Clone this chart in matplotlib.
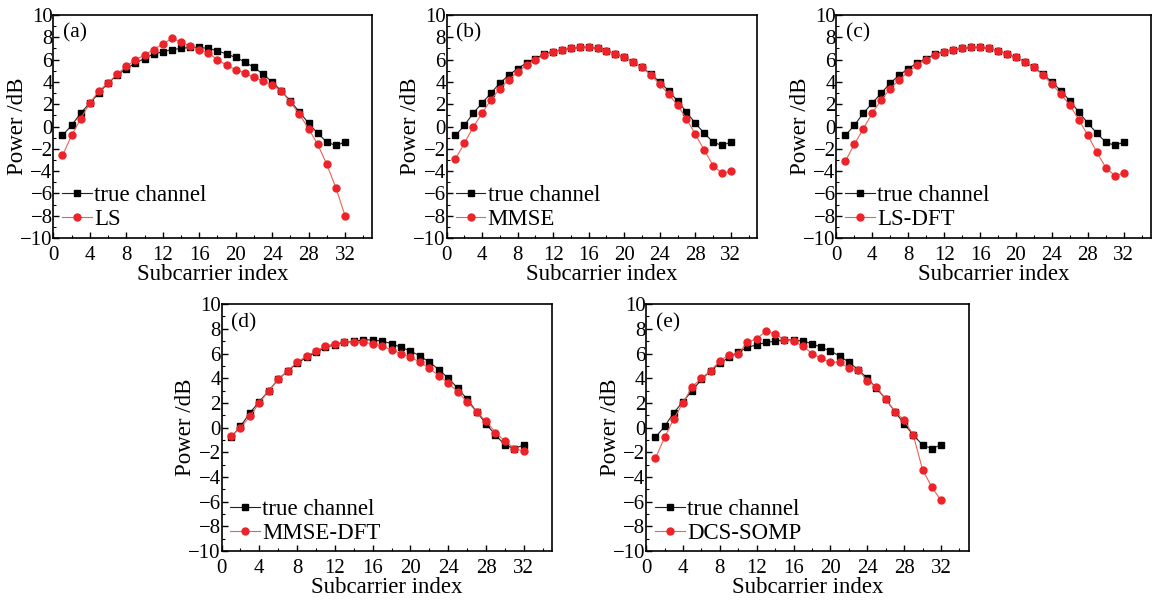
import numpy as np
import matplotlib
matplotlib.use("Agg")
import matplotlib.pyplot as plt
from matplotlib.ticker import MultipleLocator, FixedLocator

plt.rcParams['font.family'] = ['Liberation Serif', 'DejaVu Serif']

subcarrier = list(range(1, 33))

true_channel = [-0.8, 0.1, 1.2, 2.1, 3.0, 3.9, 4.6, 5.2, 5.7, 6.1, 6.5, 6.7, 6.9, 7.0, 7.1, 7.1,
                7.0, 6.8, 6.5, 6.2, 5.8, 5.3, 4.7, 4.0, 3.2, 2.3, 1.3, 0.3, -0.6, -1.4, -1.7, -1.4]

ls = [-2.6, -0.8, 0.7, 2.1, 3.2, 3.9, 4.7, 5.4, 6.0, 6.4, 6.9, 7.4, 7.9, 7.6, 7.2, 6.9,
      6.6, 6.0, 5.5, 5.1, 4.8, 4.4, 4.1, 3.7, 3.2, 2.2, 1.1, -0.2, -1.6, -3.4, -5.5, -8.0]

mmse = [-2.9, -1.5, -0.05, 1.2, 2.4, 3.4, 4.2, 4.9, 5.5, 6.0, 6.4, 6.7, 6.9, 7.0, 7.1, 7.1,
        7.0, 6.8, 6.5, 6.2, 5.8, 5.3, 4.6, 3.8, 2.9, 1.9, 0.7, -0.7, -2.1, -3.5, -4.2, -4.0]

ls_dft = [-3.1, -1.6, -0.2, 1.2, 2.4, 3.4, 4.2, 4.9, 5.5, 6.0, 6.4, 6.7, 6.9, 7.0, 7.1, 7.1,
          7.0, 6.8, 6.5, 6.2, 5.8, 5.3, 4.6, 3.8, 2.9, 1.9, 0.6, -0.8, -2.3, -3.7, -4.4, -4.2]

mmse_dft = [-0.7, 0.0, 0.9, 2.0, 3.0, 3.9, 4.6, 5.3, 5.8, 6.2, 6.6, 6.8, 6.9, 6.95, 6.9, 6.8,
            6.6, 6.3, 6.0, 5.7, 5.3, 4.8, 4.2, 3.6, 2.9, 2.1, 1.3, 0.5, -0.4, -1.1, -1.7, -1.9]

dcs_somp = [-2.5, -0.8, 0.7, 2.0, 3.3, 4.0, 4.6, 5.4, 5.9, 6.0, 6.9, 7.2, 7.8, 7.6, 7.1, 7.0,
            6.6, 6.0, 5.6, 5.3, 5.3, 4.8, 4.7, 3.8, 3.3, 2.3, 1.3, 0.6, -0.6, -3.4, -4.8, -5.9]

panel_tags = ['(a)', '(b)', '(c)', '(d)', '(e)']
method_names = ['LS', 'MMSE', 'LS-DFT', 'MMSE-DFT', 'DCS-SOMP']
estimates = [ls, mmse, ls_dft, mmse_dft, dcs_somp]

x_ticks = [0, 4, 8, 12, 16, 20, 24, 28, 32]
y_ticks = [10, 8, 6, 4, 2, 0, -2, -4, -6, -8, -10]
y_tick_labels = ['10', '8', '6', '4', '2', '0', '\u22122', '\u22124', '\u22126', '\u22128', '\u221210']

# axes boxes in figure fractions
boxes = [
    [0.046, 0.604, 0.275, 0.371],
    [0.385, 0.604, 0.268, 0.371],
    [0.721, 0.604, 0.271, 0.371],
    [0.191, 0.083, 0.285, 0.411],
    [0.557, 0.083, 0.278, 0.411],
]

red = '#ec2329'
W = 1160

fig = plt.figure(figsize=(11.6, 6.01), dpi=100)

for i in range(5):
    ax = fig.add_axes(boxes[i])
    ax.plot(subcarrier, true_channel, color='#222222', lw=0.8, marker='s', ms=4,
            mfc='black', mec='black', label='true channel')
    ax.plot(subcarrier, estimates[i], color='#f06050', lw=0.8, marker='o', ms=5,
            mfc=red, mec=red, label=method_names[i])

    ax.set_xlim(0, 35)
    ax.set_ylim(-10, 10)
    ax.xaxis.set_major_locator(FixedLocator(x_ticks))
    ax.xaxis.set_minor_locator(MultipleLocator(2))
    ax.yaxis.set_major_locator(FixedLocator(y_ticks))
    ax.yaxis.set_minor_locator(MultipleLocator(1))
    ax.set_yticklabels(y_tick_labels)
    ax.tick_params(axis='both', which='major', direction='in', length=4, width=1,
                   labelsize=15)
    ax.tick_params(axis='y', which='major', pad=0.5)
    ax.tick_params(axis='x', which='major', pad=5.5)
    ax.tick_params(axis='both', which='minor', direction='in', length=2.5, width=0.8)
    for s in ax.spines.values():
        s.set_linewidth(1.2)

    ax.set_xlabel('Subcarrier index', fontsize=16.5, labelpad=-0.5)
    ax.set_ylabel('Power /dB', fontsize=16.5, va='center')
    ax.yaxis.set_label_coords(-36 / (boxes[i][2] * W), 0.5)
    ax.text(0.03, 0.965, panel_tags[i], transform=ax.transAxes, fontsize=15.5,
            ha='left', va='top')
    ax.legend(loc='lower left', bbox_to_anchor=(-0.015, -0.025), frameon=False,
              fontsize=16.5, handlelength=1.3, handletextpad=0.1, labelspacing=0.1,
              borderaxespad=0.2)

fig.savefig('out.png', dpi=100)
